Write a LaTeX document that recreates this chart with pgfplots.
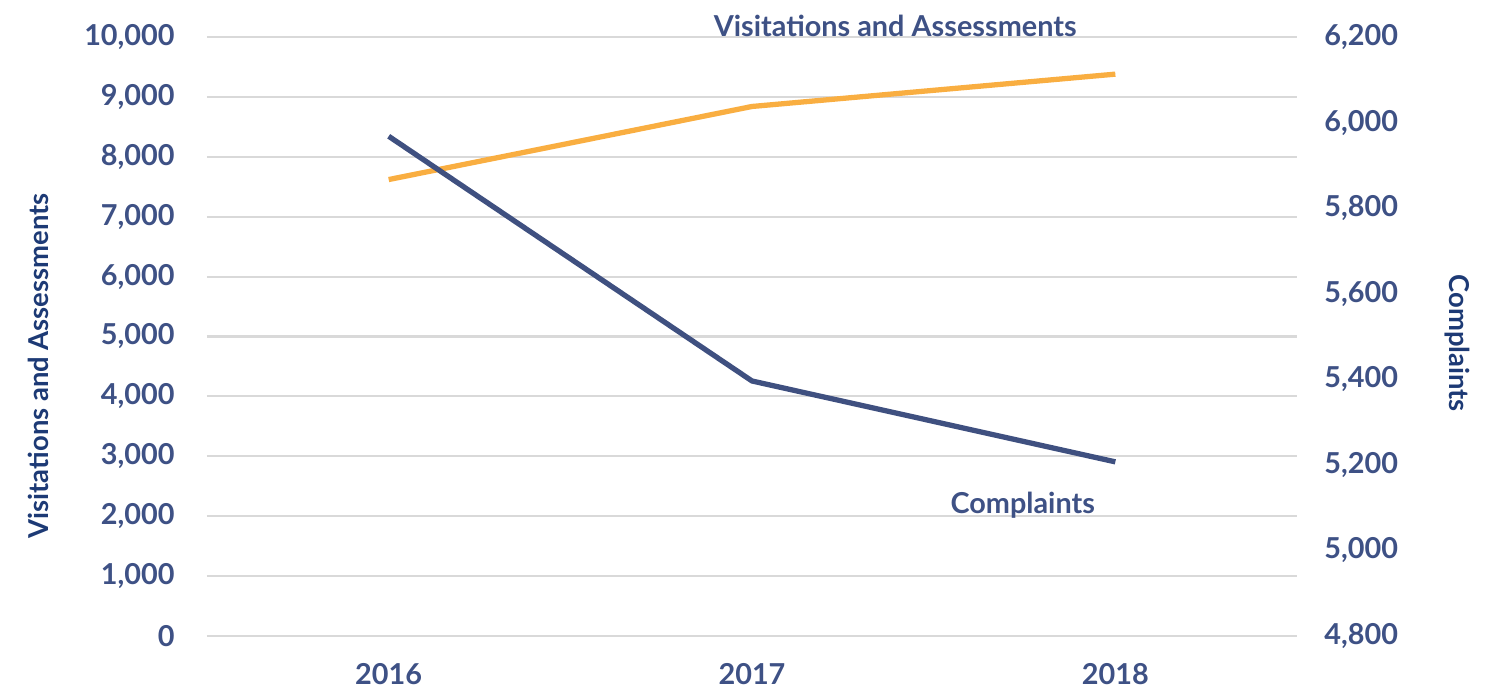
\documentclass[border=0pt]{standalone}
\usepackage{pgfplots}
\pgfplotsset{compat=1.18}
\usepackage{fontspec}
\setmainfont{Lato}
\definecolor{tickblue}{HTML}{3E5185}
\definecolor{labblue}{HTML}{1D3A75}
\definecolor{lineblue}{HTML}{3F5080}
\definecolor{lineorange}{HTML}{F9AE41}
\definecolor{gridgrey}{HTML}{D9D9D9}
\begin{document}
\begin{tikzpicture}
\useasboundingbox (0,0) rectangle (14.95,6.87);
\pgfplotsset{
  common/.style={
    scale only axis, width=10.9cm, height=5.99cm,
    at={(2.07cm,0.51cm)}, anchor=south west,
    xmin=-0.5, xmax=2.5,
    tick style={draw=none},
    ticklabel style={font=\fontsize{8.2}{9}\selectfont\bfseries, text=tickblue},
    /pgf/number format/assume math mode=true,
    /pgf/number format/1000 sep={,},
    scaled y ticks=false,
    clip=false,
  }
}
\begin{axis}[common,
  ymin=0, ymax=10000, ytick distance=1000,
  ymajorgrids, major grid style={gridgrey, line width=0.6pt},
  xtick={0,1,2}, xticklabels={2016,2017,2018},
  axis x line*=bottom, axis y line*=left,
  x axis line style={draw=none}, y axis line style={draw=none},
  yticklabel style={anchor=east, xshift=-0.2cm},
  xticklabel style={yshift=-0.15cm},
]
\addplot[lineorange, line width=1.5pt] coordinates {(0,7620) (1,8840) (2,9380)};
\node[font=\fontsize{8.2}{9}\selectfont\bfseries, text=tickblue] at (axis cs:1.394,10180) {Visitations and Assessments};
\node[font=\fontsize{8.2}{9}\selectfont\bfseries, text=tickblue] at (axis cs:1.745,2190) {Complaints};
\node[font=\fontsize{7.8}{9}\selectfont\bfseries, text=labblue, rotate=90] at (rel axis cs:-0.155,0.451) {Visitations and Assessments};
\node[font=\fontsize{7.8}{9}\selectfont\bfseries, text=labblue, rotate=-90] at (rel axis cs:1.147,0.489) {Complaints};
\end{axis}
\begin{axis}[common,
  ymin=4800, ymax=6200, ytick distance=200,
  axis x line=none, axis y line*=right,
  y axis line style={draw=none},
  yticklabel style={anchor=west, xshift=0.15cm},
]
\addplot[lineblue, line width=1.5pt] coordinates {(0,5968) (1,5396) (2,5207)};
\end{axis}
\end{tikzpicture}
\end{document}
